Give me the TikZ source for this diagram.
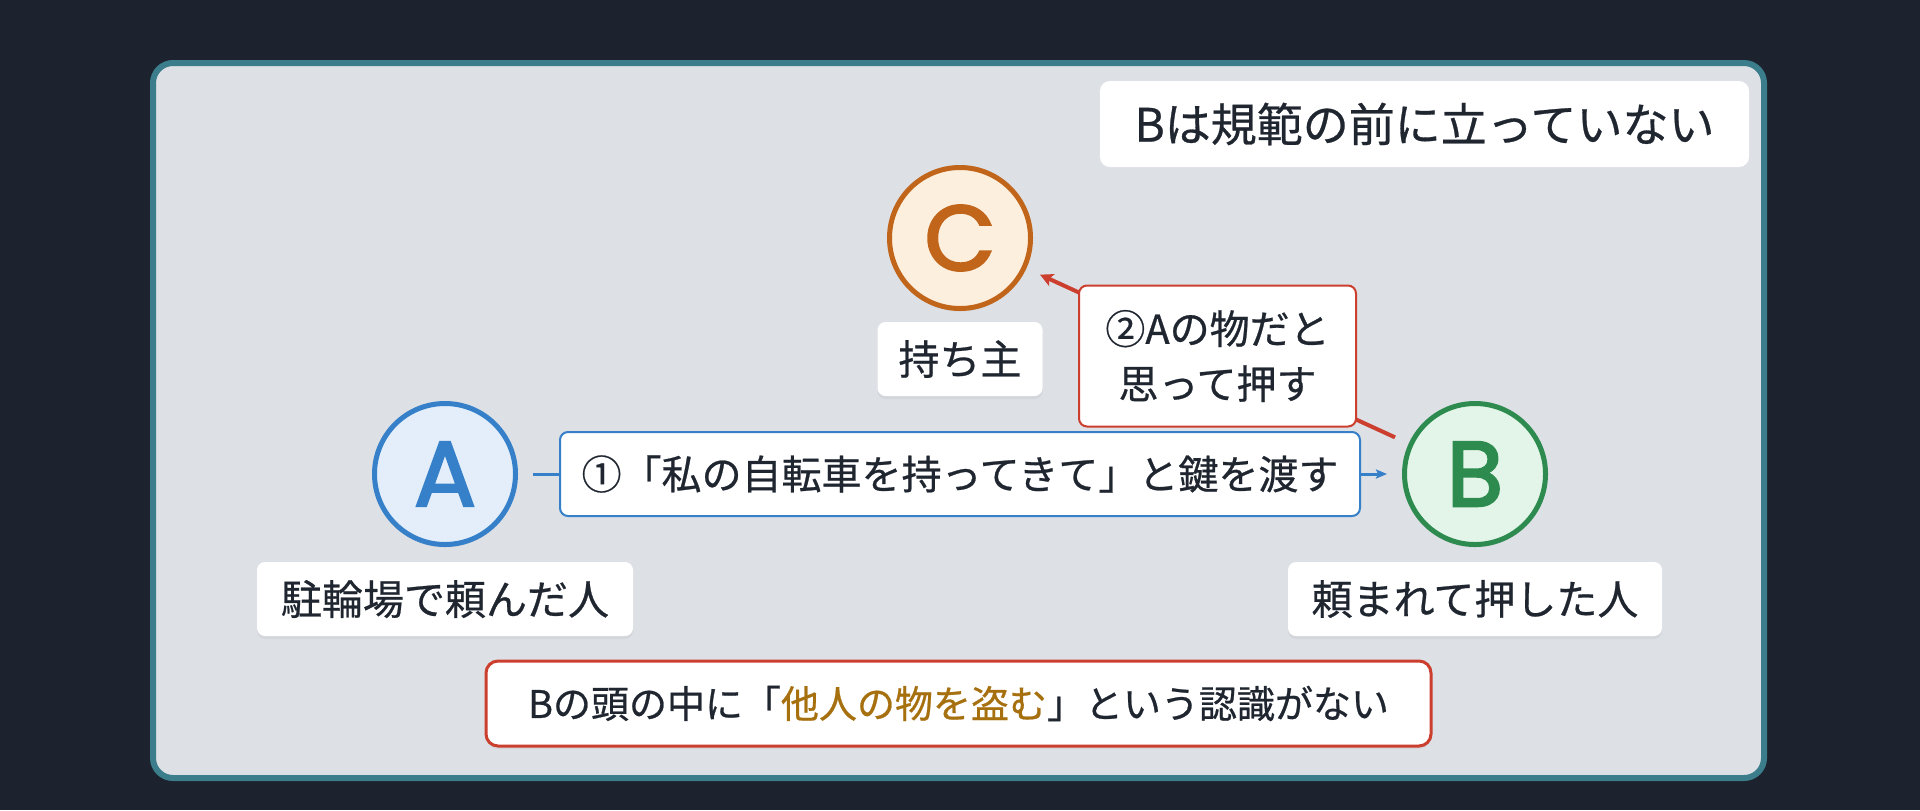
\documentclass[tikz,border=0pt]{standalone}
\usepackage{fontspec}
\setmainfont{Noto Sans CJK JP}
\newfontface\jpfont{Noto Sans CJK JP}[FakeBold=0.6]
\newfontface\letterfont{Poppins}[FakeBold=2.6]
\usetikzlibrary{arrows.meta,shadows}

\definecolor{pagebg}{HTML}{1C232E}
\definecolor{framecol}{HTML}{3C7D8C}
\definecolor{panelbg}{HTML}{DDE0E5}
\definecolor{inkcol}{HTML}{1F2630}
\definecolor{ablue}{HTML}{3580C8}
\definecolor{afill}{HTML}{E3EEFA}
\definecolor{bgreen}{HTML}{2E8B50}
\definecolor{bfill}{HTML}{E3F5E8}
\definecolor{corange}{HTML}{C0651A}
\definecolor{cfill}{HTML}{FDEFDD}
\definecolor{redcol}{HTML}{CC3F2F}
\definecolor{goldcol}{HTML}{A6700F}

\tikzset{
	softshadow/.style={drop shadow={opacity=0.10, shadow xshift=0pt, shadow yshift=-1.5pt}},
	person/.style={circle, line width=2.5pt, minimum size=70.5pt, inner sep=0pt, softshadow,
		font=\letterfont\fontsize{46}{46}\selectfont},
	namebox/.style={fill=white, rounded corners=4pt, text=inkcol, inner sep=0pt, softshadow,
		minimum height=37pt, font=\jpfont\fontsize{20.5}{24}\selectfont},
	titlebox/.style={fill=white, rounded corners=5pt, text=inkcol, inner sep=0pt,
		minimum width=324.5pt, minimum height=43pt, font=\jpfont\fontsize{23}{27}\selectfont},
	handline/.style={ablue, line width=1.5pt, shorten <=7.5pt, shorten >=7.5pt,
		-{Stealth[length=5.5pt, width=4.5pt, inset=1pt]}},
	pushline/.style={redcol, line width=2pt, shorten <=7.5pt, shorten >=7.5pt,
		-{Stealth[length=6.5pt, width=6.5pt, inset=1.5pt]}},
	handbox/.style={draw=ablue, line width=1pt, fill=white, rounded corners=4pt, text=inkcol,
		inner sep=0pt, minimum width=400pt, minimum height=42pt, font=\jpfont\fontsize{20}{24}\selectfont},
	pushbox/.style={draw=redcol, line width=1pt, fill=white, rounded corners=4pt, text=inkcol,
		inner sep=0pt, align=center, minimum width=138.5pt, minimum height=70.5pt,
		font=\jpfont\fontsize{20}{27.5}\selectfont},
	mindbox/.style={draw=redcol, line width=1.5pt, fill=white, rounded corners=6pt, text=inkcol,
		inner sep=0pt, softshadow, minimum width=472.5pt, minimum height=42.5pt,
		font=\jpfont\fontsize{19}{23}\selectfont},
}

\begin{document}
\begin{tikzpicture}[x=0.5pt,y=-0.5pt]
	%%%%% BACKGROUND %%%%%
	\fill[pagebg] (0,0) rectangle (1920,810);
	\draw[framecol, line width=3pt, fill=panelbg, rounded corners=10pt] (153,63) rectangle (1764,778);
	
	\node[titlebox] (title) at (1424.5,124) {Bは規範の前に立っていない};
	
	%%%%% PEOPLE %%%%%
	\node[person, draw=corange, fill=cfill, text=corange] (C) at (960,238) {C};
	\node[person, draw=ablue, fill=afill, text=ablue] (A) at (445,474) {A};
	\node[person, draw=bgreen, fill=bfill, text=bgreen] (B) at (1475,474) {B};
	
	\node[namebox, minimum width=82.5pt] (Cname) at (960,359) {持ち主};
	\node[namebox, minimum width=188pt] (Aname) at (445,599) {駐輪場で頼んだ人};
	\node[namebox, minimum width=187pt] (Bname) at (1475,599) {頼まれて押した人};
	
	%%%%% ACTIONS %%%%%
	\draw[handline] (A) -- node[handbox] (hand) {①「私の自転車を持ってきて」と鍵を渡す} (B);
	\draw[pushline] (B) -- node[pushbox] (push) {②Aの物だと\\思って押す} (C);
	
	\node[mindbox] (mind) at (958.5,703.5) {Bの頭の中に「{\color{goldcol}他人の物を盗む}」という認識がない};
\end{tikzpicture}
\end{document}
